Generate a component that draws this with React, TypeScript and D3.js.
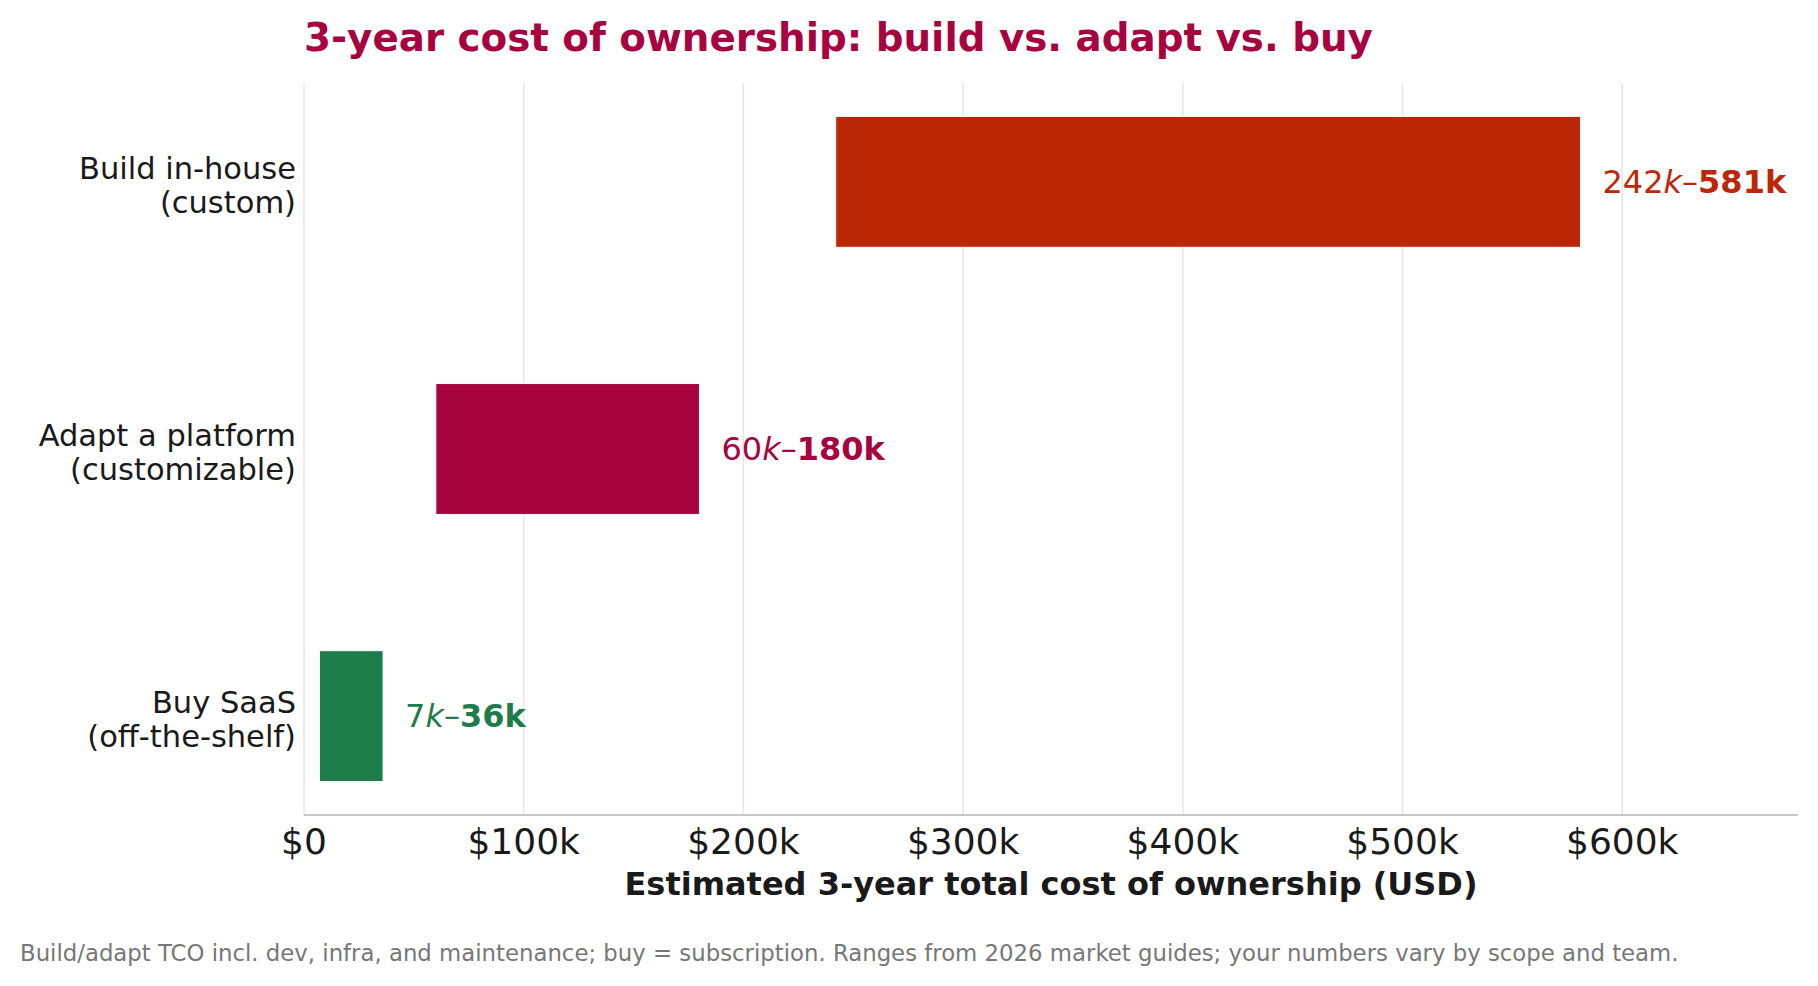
import React from "react";
import * as d3 from "d3";

// options, top to bottom
const categories = ["Build in-house\n(custom)", "Adapt a platform\n(customizable)", "Buy SaaS\n(off-the-shelf)"];
const lowK = [242, 60, 7];
const highK = [581, 180, 36];
const barColors = ["#BC2708", "#A6033F", "#1E7B4A"];
const tickValuesK = [0, 100, 200, 300, 400, 500, 600];
const tickLabels = ["$0", "$100k", "$200k", "$300k", "$400k", "$500k", "$600k"];

const title = "3-year cost of ownership: build vs. adapt vs. buy";
const xTitle = "Estimated 3-year total cost of ownership (USD)";
const footnote =
  "Build/adapt TCO incl. dev, infra, and maintenance; buy = subscription. Ranges from 2026 market guides; your numbers vary by scope and team.";

const W = 1818;
const H = 986;
const FONT = "DejaVu Sans, sans-serif";

export default function App() {
  const left = 304;
  const right = 1798;
  const top = 83;
  const bottom = 815;

  const x = d3.scaleLinear().domain([0, 680]).range([left, right]);
  // categories sit at 2, 1, 0 going down
  const y = d3.scaleLinear().domain([-0.37, 2.37]).range([bottom, top]);
  const barH = y(0) - y(0.49);

  return (
    <svg
      width={W}
      height={H}
      style={{ position: "absolute", left: 0, top: 0, background: "#fff" }}
      fontFamily={FONT}
    >
      {/* grid */}
      {tickValuesK.map((t) => (
        <line key={t} x1={x(t)} x2={x(t)} y1={top} y2={bottom} stroke="#e6e6e6" strokeWidth={1.5} />
      ))}
      <line x1={left} x2={right} y1={bottom} y2={bottom} stroke="#c8c8c8" strokeWidth={2} />

      {/* bars + range labels */}
      {categories.map((c, i) => {
        const cy = y(2 - i);
        const x0 = x(lowK[i]);
        const x1 = x(highK[i]);
        return (
          <g key={c}>
            <rect x={x0} y={cy - barH / 2} width={x1 - x0} height={barH} fill={barColors[i]} stroke="#fff" strokeWidth={1} />
            <text x={x1 + 22} y={cy + 11} fontSize={32} fill={barColors[i]}>
              <tspan>{lowK[i]}</tspan>
              <tspan fontStyle="italic">k</tspan>
              <tspan>–</tspan>
              <tspan fontWeight="bold">{highK[i]}k</tspan>
            </text>
            {c.split("\n").map((line, j) => (
              <text key={j} x={296} y={cy - 3 + j * 34} fontSize={30.5} fill="#1a1a1a" textAnchor="end">
                {line}
              </text>
            ))}
          </g>
        );
      })}

      {/* x ticks */}
      {tickValuesK.map((t, i) => (
        <text key={t} x={x(t)} y={854} fontSize={36} fill="#1a1a1a" textAnchor="middle">
          {tickLabels[i]}
        </text>
      ))}
      <text x={(left + right) / 2} y={895} fontSize={32} fontWeight="bold" fill="#1a1a1a" textAnchor="middle">
        {xTitle}
      </text>

      <text x={left} y={51} fontSize={38.8} fontWeight="bold" fill="#A6033F">
        {title}
      </text>
      <text x={20} y={961} fontSize={22.8} fill="#777">
        {footnote}
      </text>
    </svg>
  );
}
